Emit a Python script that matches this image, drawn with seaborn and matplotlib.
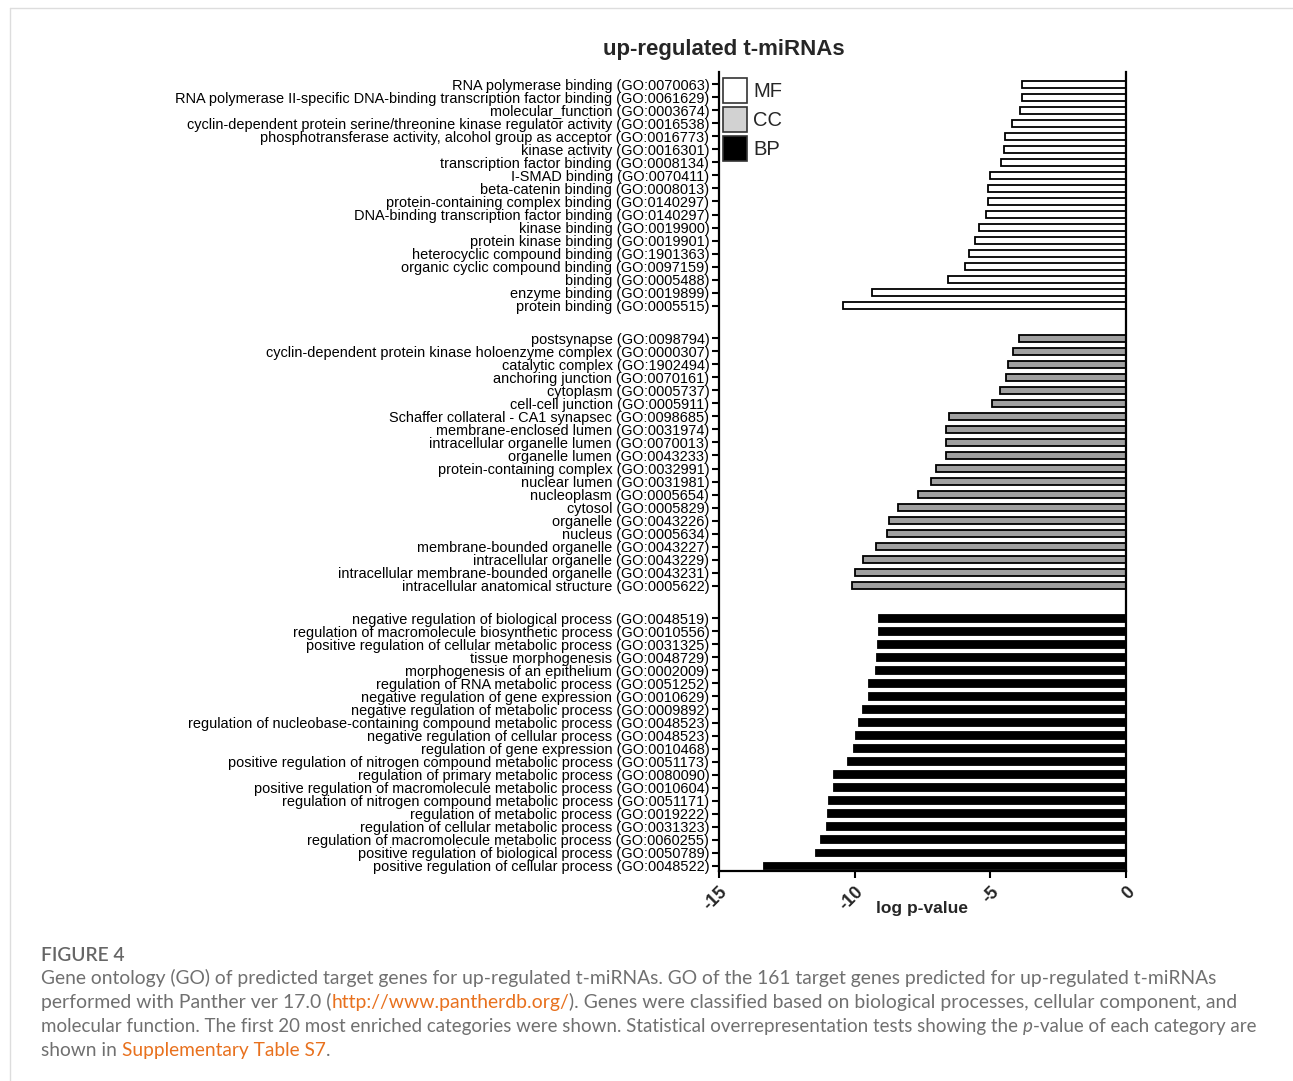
import matplotlib
matplotlib.use("Agg")
import matplotlib.pyplot as plt
from matplotlib.patches import Patch
from matplotlib.lines import Line2D
import numpy as np
import pandas as pd
import seaborn as sns

# ---------------- data ----------------
mf_terms = [
    "RNA polymerase binding (GO:0070063)",
    "RNA polymerase II-specific DNA-binding transcription factor binding (GO:0061629)",
    "molecular_function (GO:0003674)",
    "cyclin-dependent protein serine/threonine kinase regulator activity (GO:0016538)",
    "phosphotransferase activity, alcohol group as acceptor (GO:0016773)",
    "kinase activity (GO:0016301)",
    "transcription factor binding (GO:0008134)",
    "I-SMAD binding (GO:0070411)",
    "beta-catenin binding (GO:0008013)",
    "protein-containing complex binding (GO:0140297)",
    "DNA-binding transcription factor binding (GO:0140297)",
    "kinase binding (GO:0019900)",
    "protein kinase binding (GO:0019901)",
    "heterocyclic compound binding (GO:1901363)",
    "organic cyclic compound binding (GO:0097159)",
    "binding (GO:0005488)",
    "enzyme binding (GO:0019899)",
    "protein binding (GO:0005515)",
]
mf_values = [-3.83, -3.83, -3.90, -4.20, -4.47, -4.48, -4.59, -5.02, -5.07,
             -5.10, -5.16, -5.43, -5.55, -5.79, -5.95, -6.55, -9.35, -10.43]

cc_terms = [
    "postsynapse (GO:0098794)",
    "cyclin-dependent protein kinase holoenzyme complex (GO:0000307)",
    "catalytic complex (GO:1902494)",
    "anchoring junction (GO:0070161)",
    "cytoplasm (GO:0005737)",
    "cell-cell junction (GO:0005911)",
    "Schaffer collateral - CA1 synapsec (GO:0098685)",
    "membrane-enclosed lumen (GO:0031974)",
    "intracellular organelle lumen (GO:0070013)",
    "organelle lumen (GO:0043233)",
    "protein-containing complex (GO:0032991)",
    "nuclear lumen (GO:0031981)",
    "nucleoplasm (GO:0005654)",
    "cytosol (GO:0005829)",
    "organelle (GO:0043226)",
    "nucleus (GO:0005634)",
    "membrane-bounded organelle (GO:0043227)",
    "intracellular organelle (GO:0043229)",
    "intracellular membrane-bounded organelle (GO:0043231)",
    "intracellular anatomical structure (GO:0005622)",
]
cc_values = [-3.94, -4.16, -4.36, -4.43, -4.65, -4.94, -6.54, -6.64, -6.64, -6.64,
             -7.02, -7.17, -7.66, -8.42, -8.74, -8.80, -9.20, -9.70, -9.99, -10.11]

bp_terms = [
    "negative regulation of biological process (GO:0048519)",
    "regulation of macromolecule biosynthetic process (GO:0010556)",
    "positive regulation of cellular metabolic process (GO:0031325)",
    "tissue morphogenesis (GO:0048729)",
    "morphogenesis of an epithelium (GO:0002009)",
    "regulation of RNA metabolic process (GO:0051252)",
    "negative regulation of gene expression (GO:0010629)",
    "negative regulation of metabolic process (GO:0009892)",
    "regulation of nucleobase-containing compound metabolic process (GO:0048523)",
    "negative regulation of cellular process (GO:0048523)",
    "regulation of gene expression (GO:0010468)",
    "positive regulation of nitrogen compound metabolic process (GO:0051173)",
    "regulation of primary metabolic process (GO:0080090)",
    "positive regulation of macromolecule metabolic process (GO:0010604)",
    "regulation of nitrogen compound metabolic process (GO:0051171)",
    "regulation of metabolic process (GO:0019222)",
    "regulation of cellular metabolic process (GO:0031323)",
    "regulation of macromolecule metabolic process (GO:0060255)",
    "positive regulation of biological process (GO:0050789)",
    "positive regulation of cellular process (GO:0048522)",
]
bp_values = [-9.09, -9.11, -9.14, -9.19, -9.21, -9.47, -9.49, -9.69, -9.83, -9.95,
             -10.04, -10.25, -10.75, -10.75, -10.93, -10.98, -11.02, -11.23, -11.44, -13.34]

group_names = ["MF", "CC", "BP"]
x_ticks = [-15, -10, -5, 0]

# ---------------- layout of rows ----------------
GAP = 1.5  # empty rows between ontology groups
frames = []
start = 0.0
for name, terms, vals in [("MF", mf_terms, mf_values),
                          ("CC", cc_terms, cc_values),
                          ("BP", bp_terms, bp_values)]:
    pos = start + np.arange(len(terms))
    frames.append(pd.DataFrame({"term": terms, "value": vals, "group": name, "pos": pos}))
    start = pos[-1] + 1 + GAP
df = pd.concat(frames, ignore_index=True)

bar_colors = {"MF": "#ffffff", "CC": "#a0a0a0", "BP": "#000000"}
legend_colors = {"MF": "#ffffff", "CC": "#d2d2d2", "BP": "#000000"}

# ---------------- figure ----------------
sns.set_theme(style="ticks")
plt.rcParams["font.family"] = ["Liberation Sans", "DejaVu Sans"]
plt.rcParams["axes.unicode_minus"] = False

W, H = 1293, 1081
fig = plt.figure(figsize=(W / 100, H / 100), dpi=100)
fig.patch.set_facecolor("white")
ax = fig.add_axes([719 / W, 1 - 871 / H, (1126 - 719) / W, (871 - 72) / H])

sns.barplot(data=df, x="value", y="pos", hue="group", palette=bar_colors,
            orient="y", native_scale=True, dodge=False, width=0.5,
            errorbar=None, edgecolor="black", linewidth=1.3, legend=False, ax=ax)

ax.set_xlim(-15, 0)
ax.set_ylim(df["pos"].max() + 0.4, -0.94)
ax.set_yticks(df["pos"])
ax.set_yticklabels(df["term"], fontsize=10.45, color="black")
ax.set_xticks(x_ticks)
ax.set_xticklabels([str(t) for t in x_ticks], rotation=45, ha="right", va="top",
                   rotation_mode="anchor", fontsize=13, fontweight="bold")
ax.tick_params(axis="y", length=5, width=1.5, pad=2, color="black")
ax.tick_params(axis="x", length=5, width=1.5, pad=4, color="black")
ax.set_ylabel("")
ax.set_xlabel("log p-value", fontsize=12.5, fontweight="bold")
ax.xaxis.set_label_coords(0.5, -0.037)
ax.grid(False)
ax.set_facecolor("white")
for side in ["left", "bottom", "right"]:
    ax.spines[side].set_visible(True)
    ax.spines[side].set_linewidth(1.6)
    ax.spines[side].set_color("black")
ax.spines["top"].set_visible(False)

handles = [Patch(facecolor=legend_colors[g], edgecolor="#333333", linewidth=1.2)
           for g in group_names]
ax.legend(handles, group_names, loc="upper left", bbox_to_anchor=(0.01, 0.993),
          frameon=False, fontsize=14.5, handlelength=1.2, handleheight=1.55,
          handletextpad=0.3, labelspacing=0.2, borderpad=0, borderaxespad=0)

fig.text(724 / W, 1 - 50 / H, "up-regulated t-miRNAs", ha="center", va="center",
         fontsize=16, fontweight="bold")

# ---------------- page frame ----------------
fig.add_artist(Line2D([10 / W, 1], [1 - 8 / H, 1 - 8 / H], color="#dddddd", lw=1))
fig.add_artist(Line2D([10 / W, 10 / W], [0, 1 - 8 / H], color="#dddddd", lw=1))

# ---------------- caption ----------------
renderer = fig.canvas.get_renderer()
CAP_FONT = "Lato"
GREY = "#707070"
ORANGE = "#e8711e"


def text_width(s, size, style="normal"):
    t = fig.text(0, 0, s, fontsize=size, family=CAP_FONT, style=style)
    w = t.get_window_extent(renderer).width
    t.remove()
    return w


def draw_runs(x_px, base_px, runs, right_px):
    """Draw one caption line made of (text, colour, style, space_after) runs,
    sized so that the line ends at right_px."""
    full = "".join(r[0] + (" " if r[3] else "") for r in runs)
    size = 10 * (right_px - x_px) / text_width(full, 10)
    sp = text_width("x x", size) - text_width("xx", size)
    x = x_px
    for txt, color, style, gap in runs:
        t = fig.text(x / W, 1 - base_px / H, txt, fontsize=size, family=CAP_FONT,
                     color=color, style=style, va="baseline", ha="left")
        x += t.get_window_extent(renderer).width + (sp if gap else 0)
    return size


size1 = draw_runs(41, 984, [("Gene ontology (GO) of predicted target genes for up-regulated "
                             "t-miRNAs. GO of the 161 target genes predicted for up-regulated "
                             "t-miRNAs", GREY, "normal", False)], right_px=1220)
draw_runs(41, 1008, [("performed with Panther ver 17.0 (", GREY, "normal", False),
                     ("http://www.pantherdb.org/", ORANGE, "normal", False),
                     ("). Genes were classified based on biological processes, "
                      "cellular component, and", GREY, "normal", False)], right_px=1238)
draw_runs(41, 1032, [("molecular function. The first 20 most enriched categories were shown. "
                      "Statistical overrepresentation tests showing the", GREY, "normal", True),
                     ("p", GREY, "italic", False),
                     ("-value of each category are", GREY, "normal", False)], right_px=1262)
draw_runs(41, 1056, [("shown in", GREY, "normal", True),
                     ("Supplementary Table S7", ORANGE, "normal", False),
                     (".", GREY, "normal", False)], right_px=330)

fig.text(41 / W, 1 - 961 / H, "FIGURE 4", fontsize=size1, family=CAP_FONT,
         color="#666666", fontweight="semibold", va="baseline")

fig.savefig("out.png", dpi=100, facecolor="white")
